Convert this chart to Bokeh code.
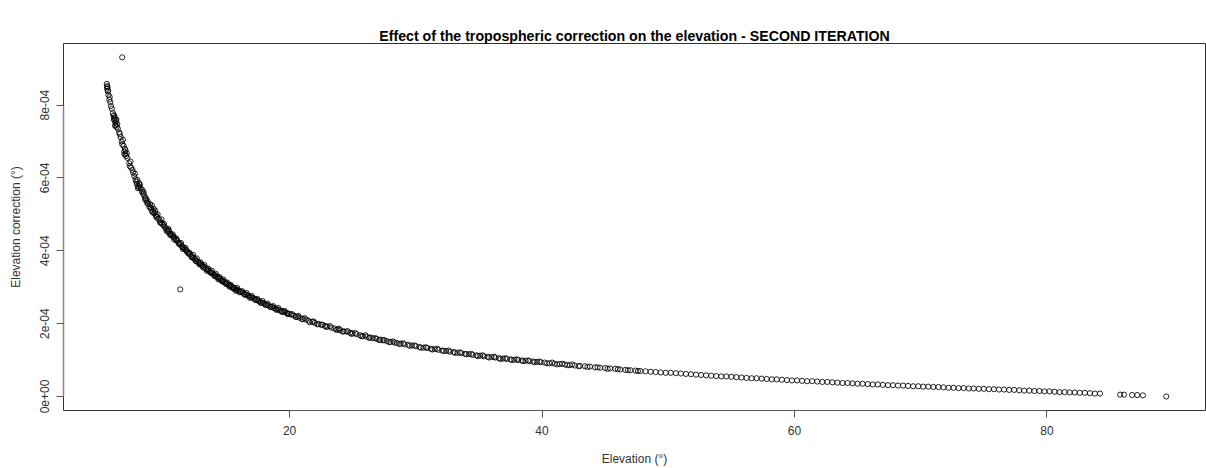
from bokeh.plotting import figure
from bokeh.models import Range1d, FixedTicker, CustomJSTickFormatter, Title
from bokeh.embed import file_html
from bokeh.resources import INLINE

# ---------------- data ----------------
title_text = "Effect of the tropospheric correction on the elevation - SECOND ITERATION"
x_label = "Elevation (°)"
y_label = "Elevation correction (°)"

x_ticks = [20, 40, 60, 80]
y_ticks = [0.0, 2e-4, 4e-4, 6e-4, 8e-4]
y_tick_labels = ["0e+00", "2e-04", "4e-04", "6e-04", "8e-04"]

# elevation (deg)
elevation = [
    5.52, 5.55, 5.58, 5.54, 5.60, 5.65, 5.72, 5.80, 5.85, 5.92, 6.00, 6.05, 6.08, 6.12, 6.15, 6.20,
    6.22, 6.25, 6.30, 6.35, 6.50, 6.62, 6.70, 6.75, 6.80, 6.85, 6.90, 6.95, 7.00, 7.05, 7.10, 7.30,
    7.35, 7.45, 7.55, 7.70, 7.80, 7.85, 7.90, 7.95, 8.00, 8.05, 8.10, 8.30, 8.40, 8.50, 8.60, 8.65,
    8.80, 8.90, 9.00, 9.05, 9.10, 9.20, 9.30, 9.40, 9.50, 9.60, 9.70, 9.80, 9.90, 10.00,
    6.74, 11.34,
    10.10, 10.20, 10.30, 10.35, 10.45, 10.50, 10.60, 10.70, 10.80, 10.90, 11.00, 11.10, 11.20, 11.30,
    11.45, 11.50, 11.60, 11.70, 11.80, 11.90, 12.00, 12.10, 12.20, 12.30, 12.40, 12.50, 12.60, 12.70,
    12.80, 12.90, 13.00, 13.10, 13.20, 13.30, 13.40, 13.50, 13.60, 13.70, 13.80, 13.90, 14.00, 14.10,
    14.20, 14.30, 14.40, 14.50, 14.60, 14.70, 14.80, 14.90, 15.00, 15.10, 15.20, 15.30, 15.40, 15.50,
    15.60, 15.70, 15.80, 15.90, 16.00, 16.15, 16.30, 16.40, 16.55, 16.70, 16.80, 16.95, 17.10, 17.20,
    17.35, 17.50, 17.60, 17.75, 17.90, 18.00, 18.15, 18.30, 18.45, 18.60, 18.75, 18.90, 19.05, 19.20,
    19.35, 19.50, 19.65, 19.80, 19.95,
    20.10, 20.35, 20.60, 20.80, 21.05, 21.30, 21.50, 21.80, 22.00, 22.30, 22.50, 22.80, 23.00, 23.30,
    23.55, 23.80, 24.00, 24.30, 24.50, 24.80, 25.00, 25.30, 25.60, 25.80, 26.10, 26.40, 26.60, 26.90,
    27.20, 27.40, 27.70, 28.00, 28.30, 28.50, 28.80, 29.10, 29.40, 29.70, 30.00, 30.30, 30.60, 30.90,
    31.20, 31.50, 31.80, 32.10, 32.40, 32.70, 33.00, 33.30, 33.60, 33.90, 34.20, 34.50, 34.80, 35.10,
    35.40, 35.70, 36.00, 36.30, 36.60, 36.90, 37.20, 37.50, 37.80, 38.10, 38.40, 38.70, 39.00, 39.30,
    39.60, 39.90,
    40.2, 40.6, 41.0, 41.4, 41.8, 42.2, 42.6, 43.0, 43.4, 43.8, 44.2, 44.6, 45.0, 45.4, 45.8, 46.2,
    46.6, 47.0, 47.4, 47.8, 48.2, 48.6, 49.0, 49.4, 49.8, 50.2, 50.6, 51.0, 51.4, 51.8, 52.2, 52.6,
    53.0, 53.4, 53.8, 54.2, 54.6, 55.0, 55.4, 55.8, 56.2, 56.6, 57.0, 57.4, 57.8, 58.2, 58.6, 59.0,
    59.4, 59.8, 60.2, 60.6, 61.0, 61.4, 61.8, 62.2, 62.6, 63.0, 63.4, 63.8, 64.2, 64.6, 65.0, 65.4,
    65.8, 66.2, 66.6, 67.0, 67.4, 67.8, 68.2, 68.6, 69.0, 69.4, 69.8, 70.2, 70.6, 71.0, 71.4, 71.8,
    72.2, 72.6, 73.0, 73.4, 73.8, 74.2, 74.6, 75.0, 75.4, 75.8, 76.2, 76.6, 77.0, 77.4, 77.8, 78.2,
    78.6, 79.0, 79.4, 79.8, 80.2, 80.6, 81.0, 81.4, 81.8, 82.2, 82.6, 83.0, 83.4, 83.8, 84.2,
    85.8, 86.1, 86.75, 87.15, 87.6, 89.45,
    # second pass of readings (overlapping cloud)
    5.62, 5.75, 6.10, 6.18, 6.28, 6.40, 6.55, 6.92, 7.00, 7.15, 7.40, 7.60, 7.75, 8.15, 7.98, 8.45,
    8.70, 9.35,
    8.20, 8.35, 8.55, 8.75, 8.95, 9.15, 9.25, 9.45, 9.55, 9.75, 9.85, 10.05, 10.25, 10.40, 10.55, 10.75,
    10.85, 11.05, 11.25, 11.40, 11.55, 11.75, 11.85, 12.05, 12.25, 12.35, 12.55, 12.65, 12.85, 12.95,
    13.15, 13.25, 13.45, 13.55, 13.75, 13.85, 14.05, 14.15, 14.35, 14.45, 14.65, 14.75, 14.95, 15.05,
    15.25, 15.35, 15.55, 15.75, 15.85, 16.05, 16.25, 16.45, 16.60, 16.85, 17.00, 17.30, 17.45, 17.70,
    17.85, 18.10, 18.25, 18.50, 18.70, 18.95, 19.10, 19.40, 19.60, 19.85,
    20.2, 20.5, 20.7, 21.0, 21.2, 21.6, 21.9, 22.2, 22.6, 22.9, 23.2, 23.7, 23.9, 24.2, 24.6, 24.9,
    25.2, 25.7, 26.0, 26.3, 26.8, 27.1, 27.5, 27.9, 28.2, 28.7, 29.0, 29.5, 29.9, 30.4, 30.8, 31.3,
    31.7, 32.2, 32.6, 33.1, 33.5, 34.0, 34.4, 34.9, 35.3, 35.8, 36.2, 36.7, 37.1, 37.6, 38.0, 38.5,
    38.9, 39.4, 39.8, 40.4, 40.8, 41.2, 41.6, 42.0, 42.4, 42.9, 43.6, 44.4, 45.2, 46.0, 46.8, 47.6,
]

# elevation correction in units of 1e-6 deg
correction_e6 = [
    858, 852, 849, 845, 838, 828, 815, 808, 797, 790, 778, 770, 762, 758, 765, 752,
    745, 757, 740, 748, 725, 712, 700, 692, 705, 688, 672, 680, 665, 660, 668, 640,
    632, 628, 622, 605, 596, 590, 583, 594, 578, 575, 585, 562, 556, 550, 545, 540,
    528, 520, 518, 512, 524, 508, 503, 498, 494, 488, 484, 478, 474, 470,
    931, 294,
    466, 462, 458, 452, 455, 448, 446, 441, 438, 436, 430, 427, 422, 420,
    414, 410, 409, 404, 402, 396, 392, 391, 386, 384, 380, 378, 373, 371,
    367, 366, 361, 360, 356, 354, 350, 349, 345, 343, 339, 338, 334, 333,
    329, 328, 324, 323, 319, 318, 314, 313, 310, 308, 305, 304, 301, 300,
    297, 296, 293, 292, 290, 287, 285, 282, 280, 277, 276, 272, 271, 268,
    266, 263, 262, 258, 257, 255, 252, 250, 247, 246, 243, 241, 239, 237,
    235, 233, 231, 229, 227,
    225, 222, 219, 216, 213, 211, 208, 205, 202, 199, 197, 194, 192, 189,
    187, 184, 182, 179, 178, 175, 173, 171, 168, 166, 164, 162, 160, 158,
    156, 154, 152, 150, 148, 147, 145, 143, 142, 140, 138, 136, 134, 133,
    131, 130, 128, 126, 125, 123, 122, 120, 119, 117, 116, 114, 113, 112,
    110, 109, 108, 107, 105, 104, 103, 102, 101, 100, 99, 98, 97, 96,
    95, 94,
    93, 91, 90, 89, 88, 86, 85, 84, 83, 82, 80, 79, 78, 77, 76, 74,
    73, 72, 71, 70, 69, 68, 67, 66, 65, 65, 64, 63, 62, 61, 60, 59,
    58, 57, 56, 55, 55, 54, 53, 52, 51, 50, 50, 49, 48, 47, 47, 46,
    45, 44, 44, 43, 42, 42, 41, 40, 40, 39, 38, 37, 37, 36, 35, 35,
    34, 33, 33, 32, 31, 31, 30, 30, 29, 28, 28, 27, 27, 26, 26, 25,
    24, 24, 23, 23, 22, 22, 21, 21, 20, 20, 19, 19, 18, 18, 17, 16,
    16, 15, 15, 14, 14, 13, 12, 12, 11, 11, 10, 10, 9, 8, 8,
    5, 5, 4, 4, 3, 0,
    # second pass of readings
    840, 822, 772, 743, 760, 735, 720, 665, 676, 655, 645, 615, 612, 580, 572, 560,
    532, 510,
    572, 566, 541, 536, 528, 505, 515, 492, 500, 477, 486, 474, 455, 460, 443, 445,
    431, 433, 418, 421, 405, 408, 399, 395, 382, 389, 372, 379, 363, 368,
    354, 361, 345, 351, 340, 345, 331, 337, 322, 328, 316, 321, 309, 313,
    301, 306, 296, 290, 298, 286, 289, 279, 284, 271, 276, 265, 268, 257,
    262, 251, 255, 245, 248, 238, 243, 232, 235, 226,
    226, 218, 221, 212, 215, 204, 206, 198, 197, 191, 193, 183, 186, 178, 179, 172,
    174, 165, 168, 161, 160, 155, 155, 149, 151, 144, 146, 139, 140, 134, 135, 129,
    131, 125, 126, 120, 121, 116, 117, 111, 113, 107, 109, 103, 105, 100, 102, 97,
    99, 94, 96, 91, 93, 88, 90, 86, 88, 83, 81, 80, 76, 75, 72, 70,
]

correction = [v * 1e-6 for v in correction_e6]

# ---------------- figure ----------------
FONT = "Liberation Sans"
TXT = "#333333"

p = figure(
    width=1206, height=468,
    output_backend="svg", toolbar_location=None,
    x_range=Range1d(2.09, 92.56), y_range=Range1d(-0.385e-4, 9.69e-4),
    min_border_left=63, min_border_right=1, min_border_top=43, min_border_bottom=58,
    title=title_text,
)
p.background_fill_color = "white"
p.border_fill_color = "white"
p.outline_line_color = "#333333"
p.outline_line_width = 1
p.xgrid.visible = False
p.ygrid.visible = False

# visible title (outermost panel)
p.title.align = "center"
p.title.text_font = FONT
p.title.text_font_size = "14.2px"
p.title.text_font_style = "bold"
p.title.text_color = "black"
p.title.standoff = 0

# transparent spacer panel between the frame and the title
spacer = Title(text="|", text_font=FONT, text_font_size="12px", standoff=5, text_alpha=0)
p.add_layout(spacer, "above")

p.scatter(elevation, correction, marker="circle", size=5.2,
          fill_color=None, line_color="black", line_width=0.85)

# x axis
xa = p.xaxis[0]
xa.ticker = FixedTicker(ticks=x_ticks)
xa.minor_tick_line_color = None
xa.major_tick_in = 0
xa.major_tick_out = 7
xa.major_tick_line_color = "#555555"
xa.axis_line_color = "#555555"
xa.bounds = (x_ticks[0], x_ticks[-1])
xa.major_label_text_font = FONT
xa.major_label_text_font_size = "12px"
xa.major_label_text_color = TXT
xa.major_label_standoff = 8
xa.axis_label = x_label
xa.axis_label_text_font = FONT
xa.axis_label_text_font_size = "12px"
xa.axis_label_text_font_style = "normal"
xa.axis_label_text_color = TXT
xa.axis_label_standoff = 14

# y axis
ya = p.yaxis[0]
ya.ticker = FixedTicker(ticks=y_ticks)
ya.formatter = CustomJSTickFormatter(
    args=dict(tick_vals=y_ticks, tick_texts=y_tick_labels),
    code="""
    let best = 0, bd = Infinity;
    for (let i = 0; i < tick_vals.length; i++) {
        const d = Math.abs(tick_vals[i] - tick);
        if (d < bd) { bd = d; best = i; }
    }
    return tick_texts[best];
    """,
)
ya.major_label_orientation = "vertical"
ya.minor_tick_line_color = None
ya.major_tick_in = 0
ya.major_tick_out = 7
ya.major_tick_line_color = "#555555"
ya.axis_line_color = "#888888"
ya.axis_line_width = 1.5
ya.bounds = (y_ticks[0], y_ticks[-1])
ya.major_label_text_font = FONT
ya.major_label_text_font_size = "12px"
ya.major_label_text_color = TXT
ya.major_label_standoff = 7
ya.axis_label = y_label
ya.axis_label_text_font = FONT
ya.axis_label_text_font_size = "12px"
ya.axis_label_text_font_style = "normal"
ya.axis_label_text_color = TXT
ya.axis_label_standoff = 15

open("out.html", "w").write(file_html(p, INLINE))
